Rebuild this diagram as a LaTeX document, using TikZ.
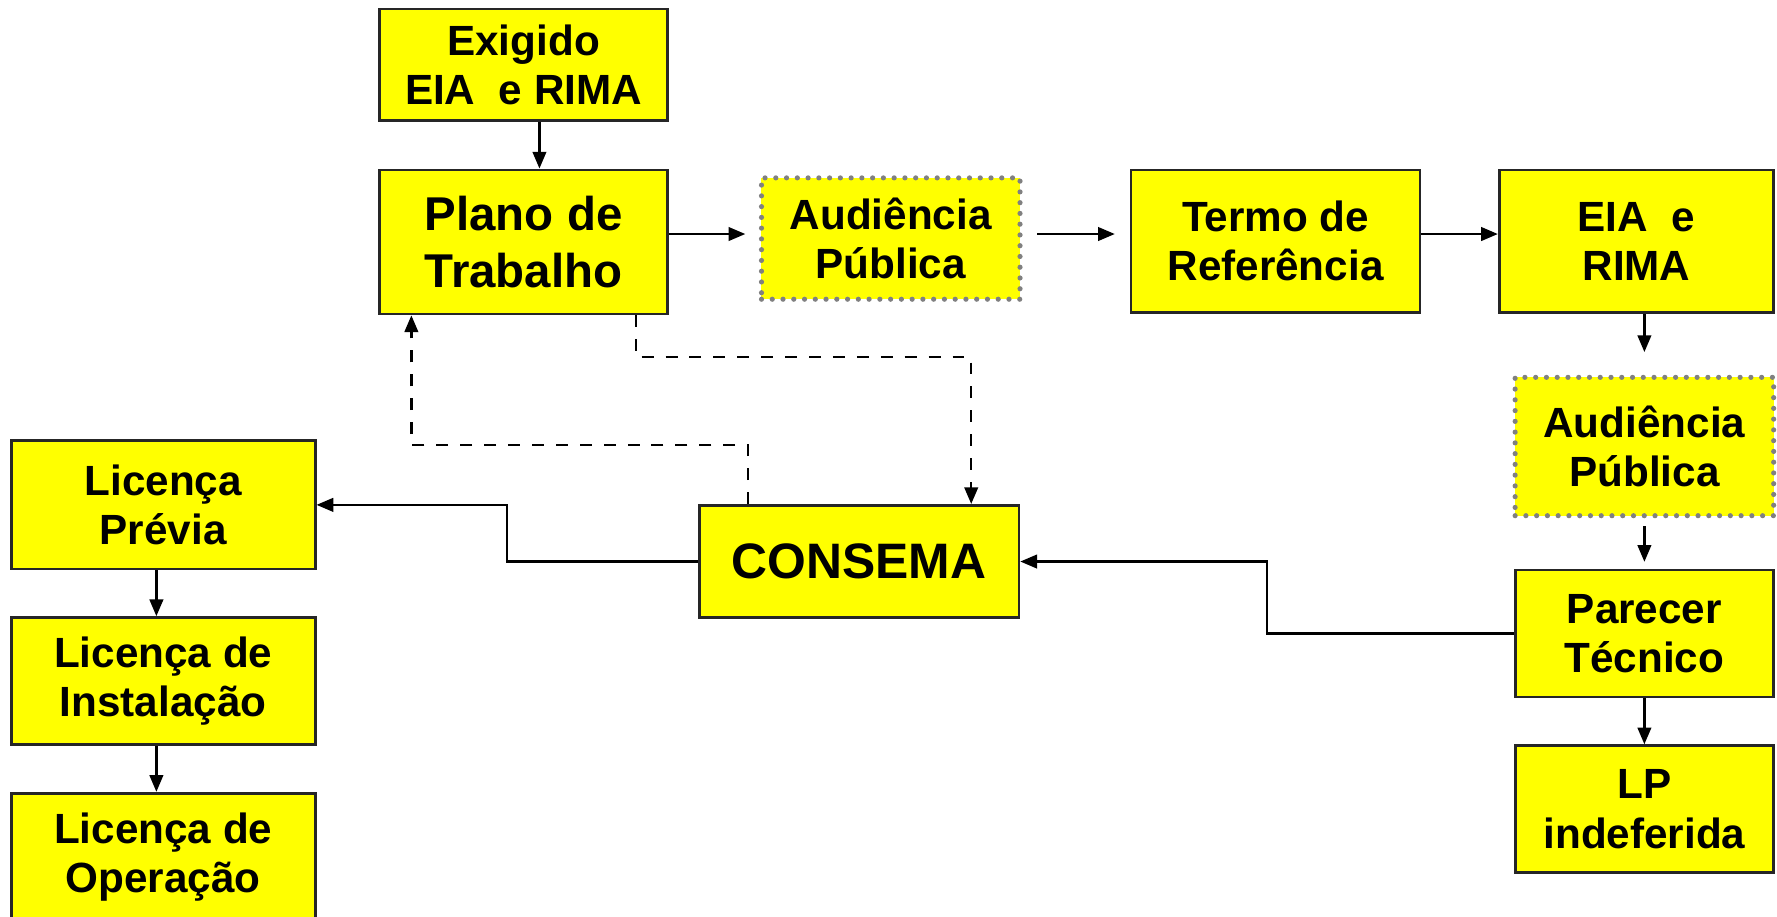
\documentclass[tikz,border=0pt]{standalone}
\usepackage{fontspec}
\setmainfont{Liberation Sans}
\usetikzlibrary{arrows.meta,calc}
\definecolor{amarelo}{RGB}{255,255,0}
\tikzset{
  caixa/.style={draw=black!85, line width=0.7pt, fill=amarelo, align=center, inner sep=0pt,
    font=\bfseries\fontsize{10.6}{12.3}\selectfont},
  pontilhada/.style={caixa, draw=gray, line width=1.3pt, dash pattern=on 0pt off 2.7pt, line cap=round},
  seta/.style={-{Triangle[length=4.2pt,width=3.4pt]}, line width=0.6pt},
}
\begin{document}
\begin{tikzpicture}[x=0.01cm,y=-0.01cm]
	\useasboundingbox (0,0) rectangle (1568,809);
	\begin{scope}[every node/.style={caixa}]
		\node[minimum width=2.54cm, minimum height=0.98cm] (exigido) at (462,57) {Exigido\\EIA\ \ e RIMA};
		\node[minimum width=2.54cm, minimum height=1.27cm, font=\bfseries\fontsize{11.9}{14.2}\selectfont] (plano) at (462,213.5) {Plano de\\Trabalho};
		\node[pontilhada, minimum width=2.28cm, minimum height=1.07cm] (aud1) at (786,210.5) {Audiência\\Pública};
		\node[minimum width=2.55cm, minimum height=1.26cm] (termo) at (1125.5,213) {Termo de\\Referência};
		\node[minimum width=2.42cm, minimum height=1.26cm] (eia) at (1444,213) {EIA\ \ e\\RIMA};
		\node[pontilhada, minimum width=2.28cm, minimum height=1.22cm] (aud2) at (1451,394) {Audiência\\Pública};
		\node[minimum width=2.28cm, minimum height=1.12cm] (parecer) at (1451,559) {Parecer\\Técnico};
		\node[minimum width=2.28cm, minimum height=1.12cm] (lpind) at (1451,714) {LP\\indeferida};
		\node[minimum width=2.82cm, minimum height=0.99cm, font=\bfseries\fontsize{12.5}{15}\selectfont] (consema) at (758,495.5) {CONSEMA};
		\node[minimum width=2.68cm, minimum height=1.13cm] (lp) at (144,445.5) {Licença\\Prévia};
		\node[minimum width=2.68cm, minimum height=1.12cm] (li) at (144,601) {Licença de\\Instalação};
		\node[minimum width=2.68cm, minimum height=1.12cm] (lo) at (144,756) {Licença de\\Operação};
	\end{scope}
	% linha das setas horizontais de cima
	\coordinate (topo) at ($(plano.east)+(0,-7)$);
	\begin{scope}[every path/.style={seta}]
		\draw ($(exigido.south)+(14,0)$) -- ($(plano.north)+(14,0)$);
		\draw[shorten >=0.12cm] (topo) -- (topo -| aud1.west);
		\draw[shorten <=0.13cm, shorten >=0.13cm] (topo -| aud1.east) -- (topo -| termo.west);
		\draw (topo -| termo.east) -- (topo -| eia.west);
		\draw[shorten >=0.2cm] (aud2.north |- eia.south) -- (aud2.north);
		\draw[shorten <=0.07cm, shorten >=0.06cm] (aud2.south) -- (parecer.north);
		\draw (parecer.south) -- (lpind.north);
		\draw (parecer.west) -| ($(parecer.west)!.5!(consema.east)$) |- (consema.east);
		\draw (consema.west) -| ($(consema.west)!.5!(lp.east)$) |- (lp.east);
		\draw ($(lp.south)+(-6,0)$) -- ($(li.north)+(-6,0)$);
		\draw ($(li.south)+(-6,0)$) -- ($(lo.north)+(-6,0)$);
		\draw[dashed] ($(plano.south)+(99,0)$) -- ++(0,37) -| ($(consema.north)+(99,0)$);
		\draw[dashed] ($(consema.north)+(-98,0)$) -- ++(0,-52) -| ($(plano.south)+(-99,0)$);
	\end{scope}
\end{tikzpicture}
\end{document}
